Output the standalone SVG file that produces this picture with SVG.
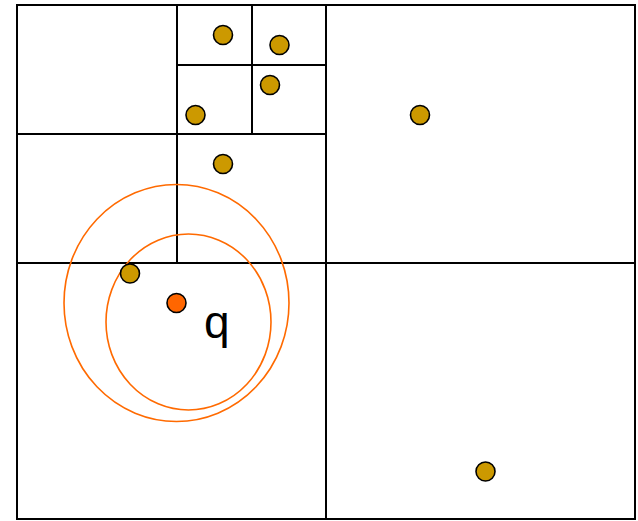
<svg xmlns="http://www.w3.org/2000/svg" width="638" height="521" viewBox="0 0 638 521">
<style>
.ln{stroke:#000;stroke-width:2;fill:none}
.pt{fill:#cc9900;stroke:#000;stroke-width:1.6}
.q{fill:#ff6600;stroke:#000;stroke-width:1.6}
.rg{fill:none;stroke:#ff6a00;stroke-width:1.6}
</style>
<rect width="638" height="521" fill="#fff"/>
<g id="grid">
<rect class="ln" x="17" y="5" width="618" height="514"/>
<line class="ln" x1="326" y1="5" x2="326" y2="519"/>
<line class="ln" x1="17" y1="263" x2="635" y2="263"/>
<line class="ln" x1="177" y1="5" x2="177" y2="263"/>
<line class="ln" x1="17" y1="134" x2="326" y2="134"/>
<line class="ln" x1="252" y1="5" x2="252" y2="134"/>
<line class="ln" x1="177" y1="65" x2="326" y2="65"/>
</g>
<g id="ranges">
<ellipse class="rg" cx="176.5" cy="303" rx="112.5" ry="118.5"/>
<ellipse class="rg" cx="188.5" cy="322" rx="82.5" ry="88"/>
</g>
<g id="points">
<circle class="pt" cx="223" cy="35" r="9.5"/>
<circle class="pt" cx="279.5" cy="45" r="9.5"/>
<circle class="pt" cx="270" cy="85" r="9.5"/>
<circle class="pt" cx="195.5" cy="115" r="9.5"/>
<circle class="pt" cx="223" cy="164" r="9.5"/>
<circle class="pt" cx="420" cy="115" r="9.5"/>
<circle class="pt" cx="485.5" cy="471.5" r="9.5"/>
<circle class="pt" cx="130" cy="273.5" r="9.5"/>
</g>
<g id="query">
<circle class="q" cx="176.5" cy="303" r="9.5"/>
<text x="204" y="338" font-family="Liberation Sans, Arial, sans-serif" font-size="46" fill="#000">q</text>
</g>
</svg>
